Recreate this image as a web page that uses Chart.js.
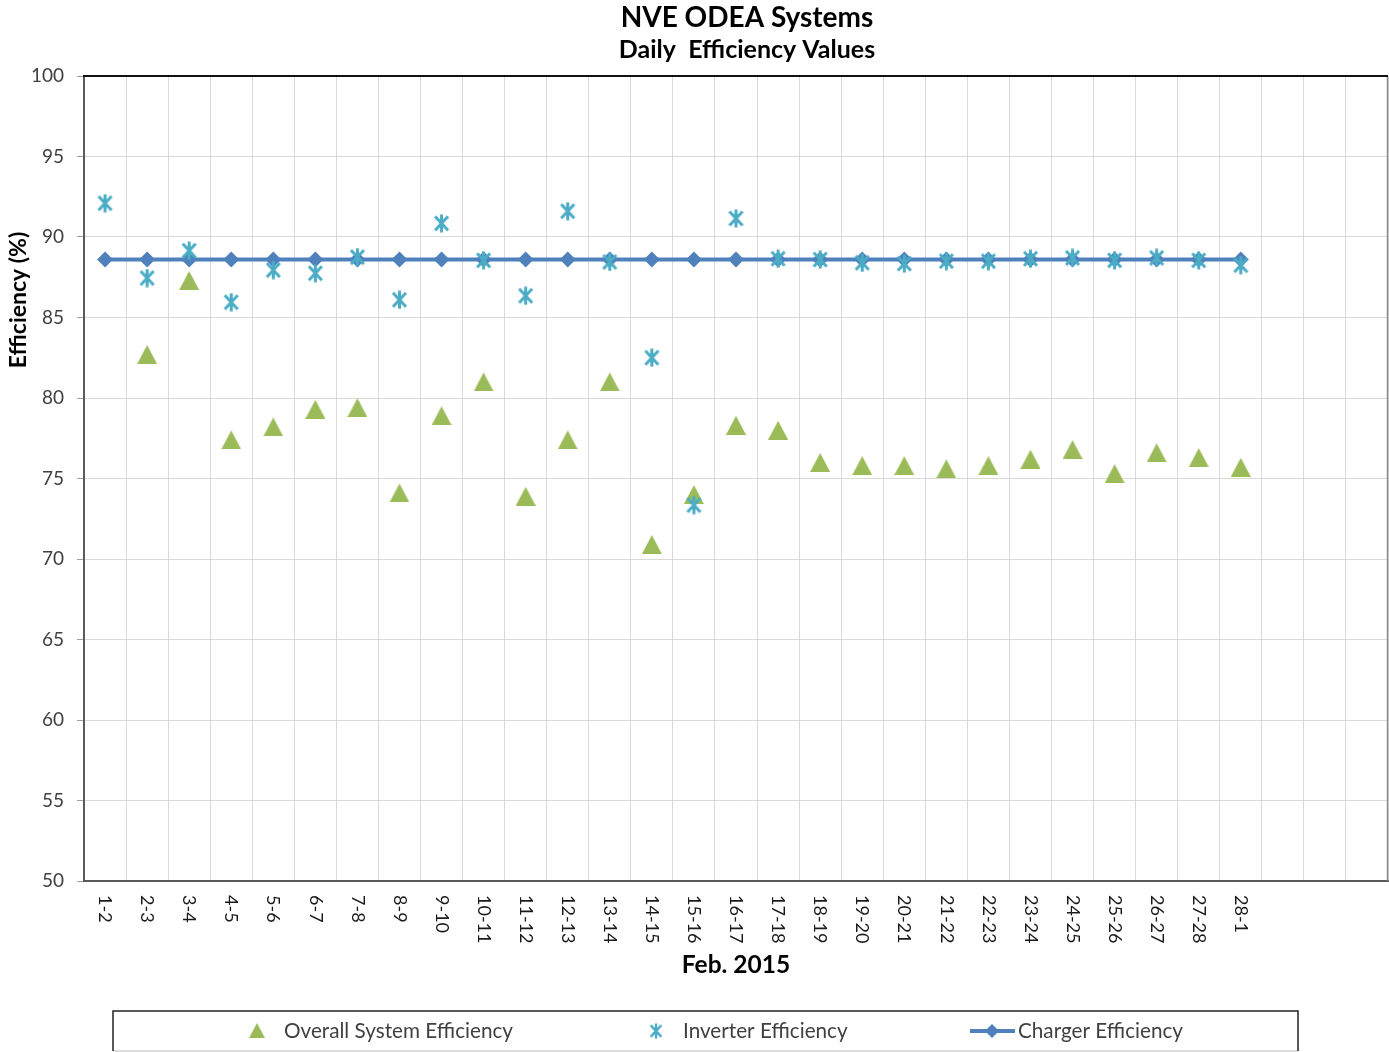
<!DOCTYPE html>
<html><head><meta charset="utf-8">
<script src="https://cdn.jsdelivr.net/npm/chart.js@4.4.1/dist/chart.umd.min.js"></script>
<style>html,body{margin:0;padding:0;background:#fff;overflow:hidden;}#wrap{width:1389px;height:1052px;}canvas{display:block;}</style>
</head><body><div id="wrap"><canvas id="c" width="1389" height="1052"></canvas></div>
<script>
const categories = ['1-2','2-3','3-4','4-5','5-6','6-7','7-8','8-9','9-10','10-11','11-12','12-13','13-14','14-15','15-16','16-17','17-18','18-19','19-20','20-21','21-22','22-23','23-24','24-25','25-26','26-27','27-28','28-1','','',''];
const overallSystem = [null,82.7,87.3,77.4,78.2,79.3,79.4,74.1,78.9,81.0,73.9,77.4,81.0,70.9,74.0,78.3,78.0,76.0,75.8,75.8,75.6,75.8,76.2,76.8,75.3,76.6,76.3,75.7];
const inverter = [92.1,87.45,89.15,85.95,87.95,87.75,88.75,86.1,90.85,88.55,86.35,91.6,88.45,82.5,73.35,91.15,88.65,88.6,88.4,88.35,88.5,88.5,88.65,88.7,88.55,88.7,88.55,88.25];
const charger = [88.6,88.6,88.6,88.6,88.6,88.6,88.6,88.6,88.6,88.6,88.6,88.6,88.6,88.6,88.6,88.6,88.6,88.6,88.6,88.6,88.6,88.6,88.6,88.6,88.6,88.6,88.6,88.6];
const seriesNames = ['Overall System Efficiency','Inverter Efficiency','Charger Efficiency'];
const chartTitle = 'NVE ODEA Systems';
const chartSubtitle = 'Daily  Efficiency Values';
const xTitle = 'Feb. 2015';
const yTitle = 'Efficiency (%)';
const yMin = 50, yMax = 100, yStep = 5;

const GREEN = '#9BBB59', CYAN = '#4BACC6', BLUE = '#4F81BD';
const FONT = 'Lato';

function triangleMarker(w, h, color) {
  const c = document.createElement('canvas'); c.width = w; c.height = h;
  const g = c.getContext('2d');
  g.fillStyle = color; g.beginPath();
  g.moveTo(w / 2, 0); g.lineTo(w, h); g.lineTo(0, h); g.closePath(); g.fill();
  return c;
}
function starMarker(w, h, color) {
  const c = document.createElement('canvas'); c.width = w; c.height = h;
  const g = c.getContext('2d');
  g.strokeStyle = color; g.lineWidth = 3; g.lineCap = 'butt';
  const m = w / 2;
  g.beginPath();
  g.moveTo(2, 2.5); g.lineTo(w - 2, h - 2.5);
  g.moveTo(w - 2, 2.5); g.lineTo(2, h - 2.5);
  g.moveTo(m, 0.5); g.lineTo(m, h - 0.5);
  g.stroke();
  return c;
}
const triImg = triangleMarker(20, 19, GREEN);
const starImg = starMarker(17, 19, CYAN);

const xLabelPlugin = {
  id: 'xLabels',
  afterDraw(chart) {
    const xs = chart.scales.x, ctx = chart.ctx;
    ctx.save();
    ctx.font = '18px ' + FONT; ctx.fillStyle = '#1a1a1a';
    ctx.textAlign = 'left'; ctx.textBaseline = 'middle';
    chart.data.labels.forEach((lab, i) => {
      if (!lab) return;
      const x = xs.getPixelForValue(i);
      ctx.save(); ctx.translate(x, xs.top + 14); ctx.rotate(Math.PI / 2);
      ctx.fillText(lab, 0, 0); ctx.restore();
    });
    ctx.restore();
  }
};
const framePlugin = {
  id: 'frame',
  afterDraw(chart) {
    const a = chart.chartArea, ctx = chart.ctx;
    ctx.save();
    ctx.strokeStyle = '#8c8c8c'; ctx.lineWidth = 1.5;
    ctx.beginPath(); ctx.moveTo(a.right - 0.5, a.top); ctx.lineTo(a.right - 0.5, a.bottom); ctx.stroke();
    ctx.strokeStyle = '#111'; ctx.lineWidth = 2;
    ctx.beginPath(); ctx.moveTo(a.left - 1, a.top); ctx.lineTo(a.right, a.top); ctx.stroke();
    ctx.fillStyle = '#000'; ctx.textAlign = 'center'; ctx.textBaseline = 'middle';
    ctx.font = 'bold 28px ' + FONT;
    ctx.fillText(chartTitle, 747, 17.5);
    ctx.font = 'bold 25px ' + FONT;
    ctx.fillText(chartSubtitle, 747, 50);
    ctx.save();
    ctx.translate(19, 300); ctx.rotate(-Math.PI / 2);
    ctx.font = 'bold 23px ' + FONT;
    ctx.fillText(yTitle, 0, 0);
    ctx.restore();
    ctx.restore();
  }
};
const legendPlugin = {
  id: 'boxLegend',
  afterDraw(chart) {
    const ctx = chart.ctx, ds = chart.data.datasets;
    const top = 1011, bottom = 1051, left = 113, right = 1298, cy = 1031;
    ctx.save();
    ctx.strokeStyle = '#d0d0d0'; ctx.lineWidth = 1.5;
    ctx.beginPath(); ctx.moveTo(left, bottom); ctx.lineTo(right, bottom); ctx.stroke();
    ctx.strokeStyle = '#222'; ctx.lineWidth = 1.5;
    ctx.beginPath(); ctx.moveTo(left, bottom); ctx.lineTo(left, top); ctx.lineTo(right, top); ctx.lineTo(right, bottom); ctx.stroke();
    ctx.font = '20.7px ' + FONT; ctx.fillStyle = '#404040';
    ctx.textAlign = 'left'; ctx.textBaseline = 'middle';
    ctx.drawImage(triImg, 257 - 8, cy - 8, 16, 15);
    ctx.fillText(ds[0].label, 284, cy);
    ctx.drawImage(starImg, 656 - 7, cy - 8, 14, 16);
    ctx.fillText(ds[1].label, 683, cy);
    ctx.strokeStyle = BLUE; ctx.lineWidth = 4;
    ctx.beginPath(); ctx.moveTo(970, cy); ctx.lineTo(1015, cy); ctx.stroke();
    ctx.fillStyle = BLUE; ctx.beginPath();
    ctx.moveTo(992 - 7, cy); ctx.lineTo(992, cy - 7); ctx.lineTo(992 + 7, cy); ctx.lineTo(992, cy + 7); ctx.closePath(); ctx.fill();
    ctx.fillStyle = '#404040';
    ctx.fillText(ds[2].label, 1018, cy);
    ctx.restore();
  }
};

new Chart(document.getElementById('c'), {
  type: 'line',
  data: {
    labels: categories,
    datasets: [
      { label: seriesNames[0], data: overallSystem, showLine: false, pointStyle: triImg, pointRadius: 10, pointHoverRadius: 10, order: 1 },
      { label: seriesNames[1], data: inverter, showLine: false, pointStyle: starImg, pointRadius: 9, pointHoverRadius: 9, order: 0 },
      { label: seriesNames[2], data: charger, borderColor: BLUE, borderWidth: 4, pointStyle: 'rectRot', pointRadius: 8, pointBackgroundColor: BLUE, pointBorderColor: BLUE, pointBorderWidth: 0, tension: 0, order: 2 }
    ]
  },
  options: {
    responsive: false, animation: false, devicePixelRatio: 1,
    layout: { autoPadding: false, padding: { left: 0, right: 1, top: 76, bottom: 41 } },
    plugins: {
      legend: { display: false }, tooltip: { enabled: false },
      title: { display: false }, subtitle: { display: false }
    },
    scales: {
      x: {
        offset: true,
        grid: { offset: true, color: '#d9d9d9', lineWidth: 1, drawTicks: false },
        border: { color: '#595959', width: 2 },
        ticks: { display: false },
        title: { display: true, text: xTitle, color: '#000', font: { family: FONT, size: 24.5, weight: 'bold' }, padding: { top: 0, bottom: 31 } },
        afterFit(s) { s.height = 130; }
      },
      y: {
        min: yMin, max: yMax,
        ticks: { stepSize: yStep, color: '#404040', font: { family: FONT, size: 19 }, padding: 13 },
        grid: { color: '#d9d9d9', lineWidth: 1, tickLength: 7, tickColor: '#a0a0a0' },
        border: { color: '#595959', width: 2 },
        afterFit(s) { s.width = 84; }
      }
    }
  },
  plugins: [xLabelPlugin, framePlugin, legendPlugin]
});
</script></body></html>
